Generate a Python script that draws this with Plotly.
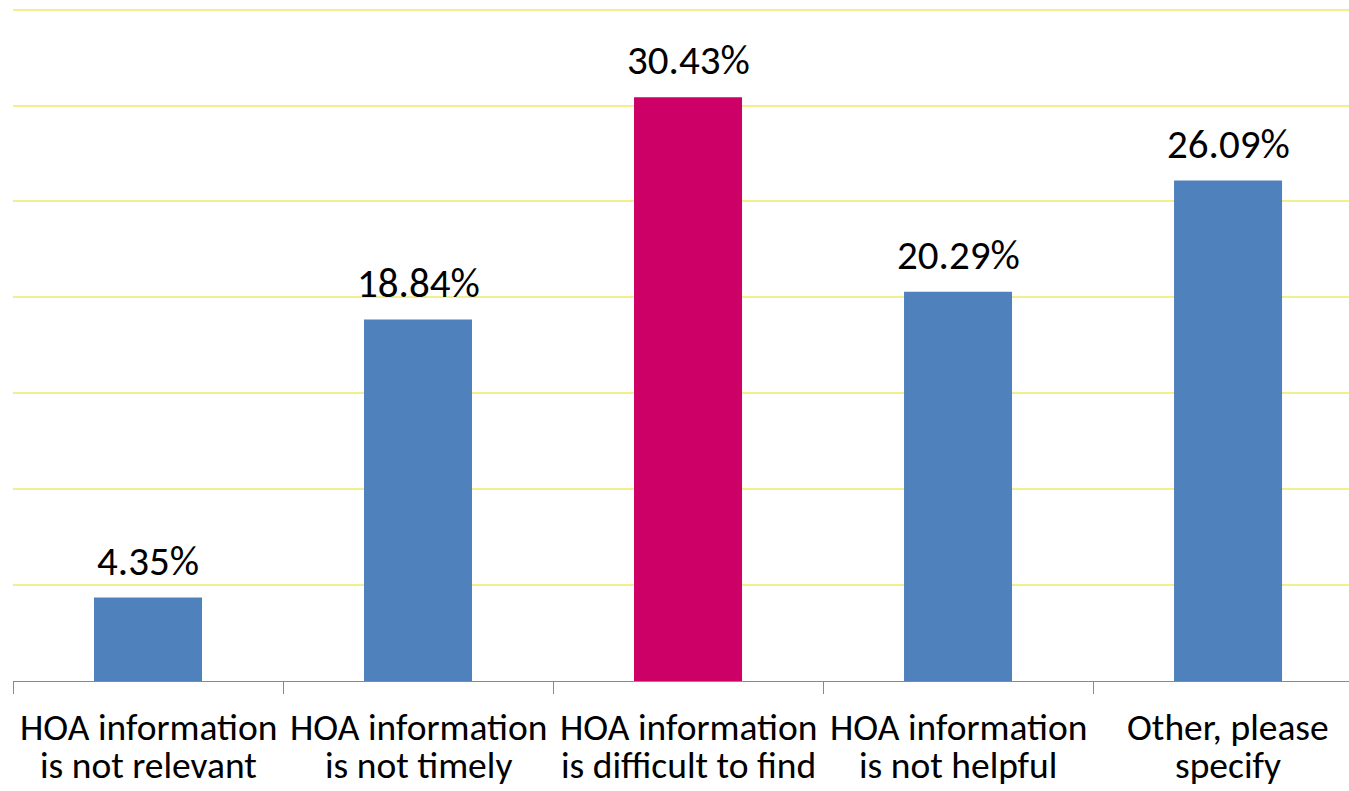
import plotly.graph_objects as go

categories = [
    "HOA information is not relevant",
    "HOA information is not timely",
    "HOA information is difficult to find",
    "HOA information is not helpful",
    "Other, please specify",
]
label_line1 = ["HOA information", "HOA information", "HOA information", "HOA information", "Other, please"]
label_line2 = ["is not relevant", "is not timely", "is difficult to find", "is not helpful", "specify"]
values = [4.35, 18.84, 30.43, 20.29, 26.09]
labels = ["4.35%", "18.84%", "30.43%", "20.29%", "26.09%"]
colors = ["#4F81BD", "#4F81BD", "#CC0066", "#4F81BD", "#4F81BD"]

FONT = "Carlito, Calibri, Lato, sans-serif"

fig = go.Figure()
fig.add_trace(go.Bar(
    x=categories, y=values, marker_color=colors, width=0.4,
    marker_line_width=0, hoverinfo="skip",
))

for c, v, t in zip(categories, values, labels):
    fig.add_annotation(x=c, y=v, text=t, showarrow=False, yanchor="bottom",
                       yshift=10, font=dict(family=FONT, size=41, color="black"))

for c, l1, l2 in zip(categories, label_line1, label_line2):
    fig.add_annotation(x=c, y=0, yref="paper", text=l1, showarrow=False, yanchor="top",
                       yshift=-21, font=dict(family=FONT, size=37.5, color="black"))
    fig.add_annotation(x=c, y=0, yref="paper", text=l2, showarrow=False, yanchor="top",
                       yshift=-59, font=dict(family=FONT, size=37.5, color="black"))

fig.update_layout(
    width=1349, height=791,
    margin=dict(l=13, r=0, t=0, b=110),
    plot_bgcolor="white", paper_bgcolor="white",
    showlegend=False,
    bargap=0.6,
)
fig.update_xaxes(
    type="category", range=[-0.5, 4.448], automargin=False,
    tickson="boundaries", ticks="outside", ticklen=12, tickcolor="#898989", tickwidth=1,
    showline=True, linecolor="#898989", linewidth=1,
    showgrid=False, showticklabels=False,
)
fig.update_yaxes(
    range=[0, 35.5], dtick=5, showticklabels=False, automargin=False,
    showgrid=True, gridcolor="#F3EF8C", gridwidth=2,
    zeroline=False, showline=False,
)

fig.write_html("out.html", config={"displayModeBar": False},
               post_script="document.body.style.margin='0';document.body.style.overflow='hidden';")
